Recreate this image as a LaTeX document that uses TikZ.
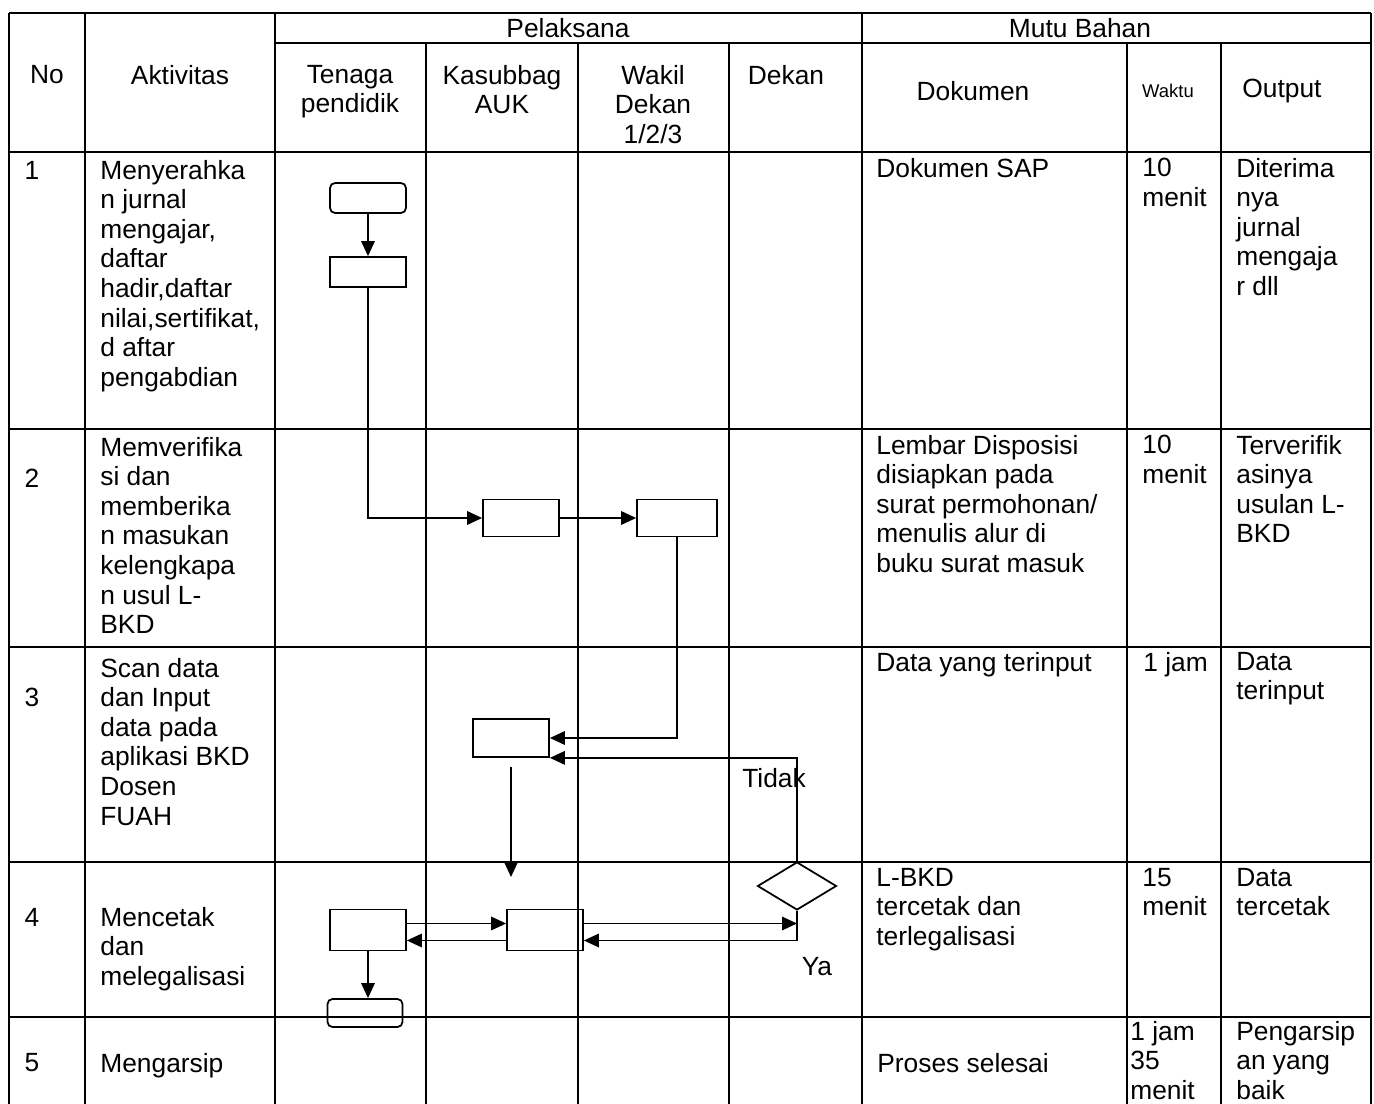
\documentclass[tikz,border=0pt]{standalone}
\usepackage{fontspec}
\setmainfont{Liberation Sans}
\usetikzlibrary{shapes.geometric,arrows.meta}
\newcommand{\cellfont}{\fontsize{15}{16.8}\selectfont}
\newcommand{\tinycell}{\fontsize{10.5}{12}\selectfont}

\begin{document}
\begin{tikzpicture}[
        x=0.02cm, y=-0.02cm,
        grid/.style={line width=1.3pt},
        txt/.style={anchor=north west, align=left, inner sep=0pt, font=\cellfont},
        hdr/.style={anchor=north, align=center, inner sep=0pt, font=\cellfont},
        lbl/.style={inner sep=0pt, font=\cellfont},
        proc/.style={draw, rectangle, line width=1pt, minimum width=1.52cm, minimum height=0.6cm, inner sep=0pt},
        term/.style={proc, rounded corners=0.1cm},
        decbox/.style={draw, diamond, line width=1pt, minimum width=1.58cm, minimum height=0.96cm, inner sep=0pt},
        arrow/.style={line width=1pt, -{Triangle[length=0.3cm, width=0.27cm]}}
    ]
        \useasboundingbox (0,0) rectangle (1374,1104);

        % table
        \draw[grid] (9,13) -- (1371,13);
        \draw[grid] (275,43) -- (1371,43);
        \foreach \y in {152,429,647,862,1017}
            \draw[grid] (9,\y) -- (1371,\y);
        \foreach \x in {9,85,275,862,1371}
            \draw[grid] (\x,13) -- (\x,1104);
        \foreach \x in {426,578,729,1127,1221}
            \draw[grid] (\x,43) -- (\x,1104);

        % header
        \node[lbl] (hno) at (47,75) {No};
        \node[lbl] (hakt) at (180,75) {Aktivitas};
        \node[lbl] (hpel) at (568,28) {Pelaksana};
        \node[lbl] (hmutu) at (1080,28) {Mutu Bahan};
        \node[hdr] (hten) at (350,65) {Tenaga\\pendidik};
        \node[hdr] (hkas) at (502,65) {Kasubbag\\AUK};
        \node[hdr] (hwak) at (653,65) {Wakil\\Dekan\\1/2/3};
        \node[lbl] (hdek) at (786,75) {Dekan};
        \node[lbl] (hdok) at (973,91) {Dokumen};
        \node[lbl, font=\tinycell] (hwkt) at (1168,91) {Waktu};
        \node[lbl] (hout) at (1282,91) {Output};

        % nomor
        \node[lbl] (n1) at (32,170) {1};
        \node[lbl] (n2) at (32,478) {2};
        \node[lbl] (n3) at (32,697) {3};
        \node[lbl] (n4) at (32,917) {4};
        \node[lbl] (n5) at (32,1063) {5};

        % aktivitas
        \node[txt] (a1) at (100,160) {Menyerahka\\n jurnal\\mengajar,\\daftar\\hadir,daftar\\nilai,sertifikat,\\d aftar\\pengabdian};
        \node[txt] (a2) at (100,437) {Memverifika\\si dan\\memberika\\n masukan\\kelengkapa\\n usul L-\\BKD};
        \node[txt] (a3) at (100,658) {Scan data\\dan Input\\data pada\\aplikasi BKD\\Dosen\\FUAH};
        \node[txt] (a4) at (100,907) {Mencetak\\dan\\melegalisasi};
        \node[txt] (a5) at (100,1053) {Mengarsip};

        % mutu bahan
        \node[txt] (d1) at (876,158) {Dokumen SAP};
        \node[txt] (d2) at (876,435) {Lembar Disposisi\\disiapkan pada\\surat permohonan/\\menulis alur di\\buku surat masuk};
        \node[txt] (d3) at (876,652) {Data yang terinput};
        \node[txt] (d4) at (876,868) {L-BKD\\tercetak dan\\terlegalisasi};
        \node[txt] (d5) at (877,1053) {Proses selesai};

        \node[txt] (w1) at (1142,158) {10\\menit};
        \node[txt] (w2) at (1142,435) {10\\menit};
        \node[txt] (w3) at (1143,652) {1 jam};
        \node[txt] (w4) at (1142,868) {15\\menit};
        \node[txt] (w5) at (1130,1021) {1 jam\\35\\menit};

        \node[txt] (o1) at (1236,158) {Diterima\\nya\\jurnal\\mengaja\\r dll};
        \node[txt] (o2) at (1236,435) {Terverifik\\asinya\\usulan L-\\BKD};
        \node[txt] (o3) at (1236,652) {Data\\terinput};
        \node[txt] (o4) at (1236,868) {Data\\tercetak};
        \node[txt] (o5) at (1236,1021) {Pengarsip\\an yang\\baik};

        % alur
        \node[term] (mulai) at (368,198) {};
        \node[proc] (serah) at (368,272) {};
        \node[proc, minimum height=0.74cm] (kasub) at (521,518) {};
        \node[proc, minimum width=1.6cm, minimum height=0.74cm] (wadek) at (677,518) {};
        \node[proc, minimum height=0.76cm] (inputd) at (511,738) {};
        \node[decbox] (periksa) at (797,886) {};
        \node[proc, minimum height=0.82cm] (cetak) at (368,930) {};
        \node[proc, minimum height=0.82cm] (legal) at (545,930) {};
        \node[term, minimum width=1.5cm, minimum height=0.56cm] (arsip) at (365,1013) {};

        \node[lbl] (tidak) at (774,778) {Tidak};
        \node[lbl] (ya) at (817,967) {Ya};

        \coordinate (drop) at (511,877);
        \coordinate (cetakatas) at ([yshift=0.13cm]cetak.east);
        \coordinate (legalatas) at ([yshift=0.13cm]legal.east);
        \coordinate (legalbawah) at ([yshift=-0.21cm]legal.east);

        \draw[arrow] (mulai.south) -- (serah.north);
        \draw[arrow] (serah.south) |- (kasub.west);
        \draw[arrow] (kasub.east) -- (wadek.west);
        \draw[arrow] (wadek.south) |- (inputd.east);
        \draw[arrow] (periksa.north) |- (inputd.south east);
        \draw[arrow, shorten <=0.18cm] (inputd.south) -- (drop);
        \draw[arrow] (cetakatas) -- (cetakatas -| legal.west);
        \draw[arrow] (legalbawah -| legal.west) -- (legalbawah -| cetak.east);
        \draw[arrow] (legalatas) -- (legalatas -| periksa.south);
        \draw[arrow] (periksa.south) |- (legalbawah);
        \draw[arrow] (cetak.south) -- (cetak.south |- arsip.north);
    \end{tikzpicture}
\end{document}
